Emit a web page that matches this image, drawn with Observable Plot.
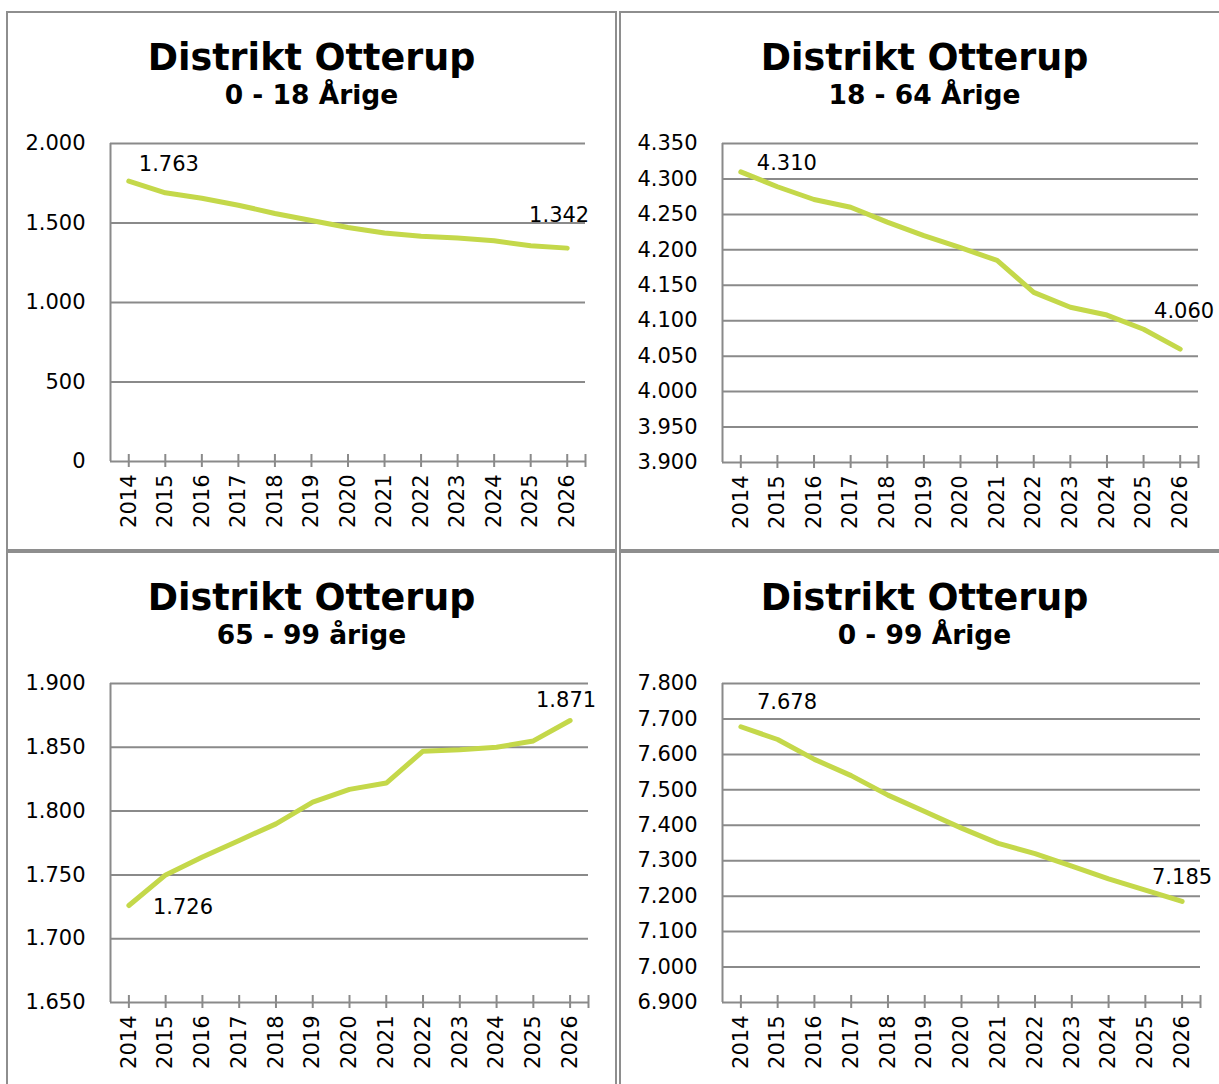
<!DOCTYPE html>
<html>
<head>
<meta charset="utf-8">
<script src="https://cdn.jsdelivr.net/npm/d3@7"></script>
<script src="https://cdn.jsdelivr.net/npm/@observablehq/plot@0.6"></script>
<style>
  html, body { margin: 0; padding: 0; background: #fff; }
  #page { position: relative; width: 1219px; height: 1084px; overflow: hidden; background: #fff;
          font-family: "DejaVu Sans", Verdana, sans-serif; color: #000; }
  .panel { position: absolute; width: 611px; height: 540px; box-shadow: inset 0 0 0 2px #8e8e8e; }
  .title { position: absolute; left: 0; width: 100%; text-align: center; font-weight: bold; white-space: nowrap; }
  .t1 { top: 29px; font-size: 36.5px; line-height: 36.5px; }
  .t2 { top: 71px; font-size: 26.5px; line-height: 26.5px; }
  .panel svg { position: absolute; left: 0; top: 99px; overflow: visible; }
</style>
</head>
<body>
<div id="page"></div>
<script>
// ---- data ----
const years = [2014, 2015, 2016, 2017, 2018, 2019, 2020, 2021, 2022, 2023, 2024, 2025, 2026];
const chartTitle = "Distrikt Otterup";
const subtitles = ["0 - 18 Årige", "18 - 64 Årige", "65 - 99 årige", "0 - 99 Årige"];

const age0to18  = [1763, 1690, 1656, 1612, 1560, 1516, 1472, 1437, 1417, 1405, 1388, 1357, 1342];
const age18to64 = [4310, 4289, 4271, 4260, 4239, 4220, 4203, 4185, 4140, 4119, 4108, 4088, 4060];
const age65to99 = [1726, 1750, 1764, 1777, 1790, 1807, 1817, 1822, 1847, 1848, 1850, 1855, 1871];
const age0to99  = [7678, 7642, 7586, 7540, 7485, 7439, 7392, 7349, 7320, 7285, 7249, 7217, 7185];

const yTicks18  = [0, 500, 1000, 1500, 2000];
const yTicks64  = [3900, 3950, 4000, 4050, 4100, 4150, 4200, 4250, 4300, 4350];
const yTicks99o = [1650, 1700, 1750, 1800, 1850, 1900];
const yTicks99a = [6900, 7000, 7100, 7200, 7300, 7400, 7500, 7600, 7700, 7800];

// ---- layout / style ----
const lineColor = "#c4d84a";
const gridColor = "#8a8a8a";
const fmt = d3.formatLocale({decimal: ",", thousands: ".", grouping: [3], currency: ["", ""]}).format(",d");

const panels = [
  {sub: subtitles[0], values: age0to18,  ticks: yTicks18,  left: 6,   top: 11,  ml: 104, mr: 32, mb: 89,
   first: {dx: 10, dy: -17, anchor: "start"}, last: {dx: 22, dy: -33, anchor: "end"}},
  {sub: subtitles[1], values: age18to64, ticks: yTicks64,  left: 619, top: 11,  ml: 103, mr: 32, mb: 88,
   first: {dx: 16, dy: -9, anchor: "start"},  last: {dx: 34, dy: -38, anchor: "end"}},
  {sub: subtitles[2], values: age65to99, ticks: yTicks99o, left: 6,   top: 551, ml: 104, mr: 29, mb: 88,
   first: {dx: 24, dy: 2, anchor: "start"},   last: {dx: 26, dy: -20, anchor: "end"}},
  {sub: subtitles[3], values: age0to99,  ticks: yTicks99a, left: 619, top: 551, ml: 103, mr: 30, mb: 88,
   first: {dx: 16, dy: -24, anchor: "start"}, last: {dx: 30, dy: -24, anchor: "end"}}
];

const page = document.getElementById("page");
const xDomain = [years[0] - 0.5, years[years.length - 1] + 0.5];
const tickMarks = [...years, xDomain[1]];

for (const p of panels) {
  const div = document.createElement("div");
  div.className = "panel";
  div.style.left = p.left + "px";
  div.style.top = p.top + "px";
  const t1 = document.createElement("div");
  t1.className = "title t1"; t1.textContent = chartTitle;
  const t2 = document.createElement("div");
  t2.className = "title t2"; t2.textContent = p.sub;
  div.appendChild(t1); div.appendChild(t2);

  const data = years.map((year, i) => ({year, value: p.values[i]}));
  const ends = [data[0], data[data.length - 1]];

  const chart = Plot.plot({
    width: 611,
    height: 440,
    marginLeft: p.ml,
    marginRight: p.mr,
    marginTop: 33,
    marginBottom: p.mb,
    style: {fontSize: "21px", fontFamily: "'DejaVu Sans', Verdana, sans-serif", color: "#000", background: "transparent", overflow: "visible"},
    x: {domain: xDomain},
    y: {domain: [p.ticks[0], p.ticks[p.ticks.length - 1]]},
    marks: [
      Plot.ruleY(p.ticks, {stroke: gridColor, strokeWidth: 2}),
      Plot.ruleX([xDomain[0]], {stroke: gridColor, strokeWidth: 2}),
      Plot.axisY({ticks: p.ticks, tickSize: 0, tickPadding: 25, tickFormat: fmt, label: null}),
      Plot.axisX({ticks: tickMarks, tickSize: 13, dy: -7, tickFormat: () => "", label: null, stroke: gridColor, strokeWidth: 2}),
      Plot.axisX({ticks: years, tickSize: 0, tickPadding: 13, tickRotate: -90, tickFormat: d => String(d), label: null}),
      Plot.line(data, {x: "year", y: "value", stroke: lineColor, strokeWidth: 5, strokeLinecap: "round", strokeLinejoin: "round"}),
      Plot.text([ends[0]], {x: "year", y: "value", text: d => fmt(d.value), dx: p.first.dx, dy: p.first.dy, textAnchor: p.first.anchor, fill: "#000"}),
      Plot.text([ends[1]], {x: "year", y: "value", text: d => fmt(d.value), dx: p.last.dx, dy: p.last.dy, textAnchor: p.last.anchor, fill: "#000"})
    ]
  });
  div.appendChild(chart);
  page.appendChild(div);
}
</script>
</body>
</html>
